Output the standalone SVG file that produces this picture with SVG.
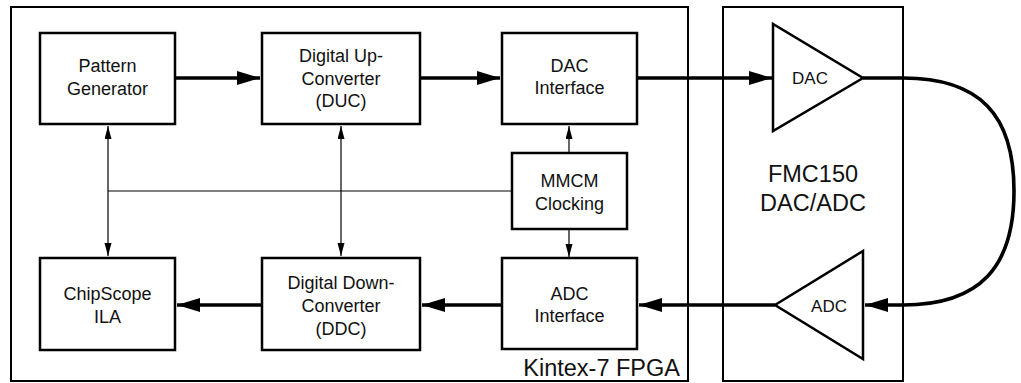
<svg xmlns="http://www.w3.org/2000/svg" width="1021" height="383" viewBox="0 0 1021 383">
<style>
text{font-family:"Liberation Sans",Arial,Helvetica,sans-serif;fill:#111;text-anchor:middle}
.t{font-size:18px}
.big{font-size:23.5px}
.tri{font-size:17px}
.box{fill:#fff;stroke:#000;stroke-width:2.5}
.frame{fill:none;stroke:#000;stroke-width:2}
.thick{fill:none;stroke:#000;stroke-width:3.6}
.thin{fill:none;stroke:#000;stroke-width:1.2}
</style>
<defs>
<marker id="ah" markerUnits="userSpaceOnUse" markerWidth="24" markerHeight="16" refX="23" refY="7" orient="auto">
<path d="M0,0 L23,7 L0,14 z" fill="#000"/>
</marker>
<marker id="as" markerUnits="userSpaceOnUse" markerWidth="14" markerHeight="8" refX="13" refY="3.5" orient="auto-start-reverse">
<path d="M0,0 L13,3.5 L0,7 z" fill="#000"/>
</marker>
</defs>
<g id="fpga">
<rect class="frame" x="11" y="7" width="677" height="374"/>
<text class="big" x="680" y="376" style="text-anchor:end">Kintex-7 FPGA</text>
</g>
<g id="fmc150">
<rect class="frame" x="723" y="7" width="180" height="374"/>
<text class="big" x="813" y="182">FMC150</text>
<text class="big" x="813" y="211">DAC/ADC</text>
</g>
<g id="connectors">
<path class="thick" d="M175,78 H260" marker-end="url(#ah)"/>
<path class="thick" d="M420,78 H500" marker-end="url(#ah)"/>
<path class="thick" d="M637,78 H772" marker-end="url(#ah)"/>
<path class="thick" d="M863,78 H903 C980,78 1014,115 1014,191 C1014,267 980,305 903,305 H865" marker-end="url(#ah)"/>
<path class="thick" d="M775,305 H639" marker-end="url(#ah)"/>
<path class="thick" d="M502,305 H422" marker-end="url(#ah)"/>
<path class="thick" d="M262,305 H177" marker-end="url(#ah)"/>
<path class="thin" d="M108,191 H512"/>
<path class="thin" d="M108,126 V256" marker-start="url(#as)" marker-end="url(#as)"/>
<path class="thin" d="M341,126 V256" marker-start="url(#as)" marker-end="url(#as)"/>
<path class="thin" d="M569,153 V126" marker-end="url(#as)"/>
<path class="thin" d="M569,229 V257" marker-end="url(#as)"/>
</g>
<g id="pattern-generator">
<rect class="box" x="40" y="33" width="135" height="91"/>
<text class="t" x="107.5" y="72">Pattern</text>
<text class="t" x="107.5" y="95">Generator</text>
</g>
<g id="duc">
<rect class="box" x="262" y="33" width="158" height="91"/>
<text class="t" x="341" y="62">Digital Up-</text>
<text class="t" x="341" y="84.5">Converter</text>
<text class="t" x="341" y="107">(DUC)</text>
</g>
<g id="dac-interface">
<rect class="box" x="502" y="33" width="135" height="91"/>
<text class="t" x="569.5" y="72">DAC</text>
<text class="t" x="569.5" y="94">Interface</text>
</g>
<g id="mmcm">
<rect class="box" x="512" y="153" width="115" height="76"/>
<text class="t" x="569.5" y="187">MMCM</text>
<text class="t" x="569.5" y="210">Clocking</text>
</g>
<g id="chipscope">
<rect class="box" x="40" y="258" width="135" height="92"/>
<text class="t" x="107.5" y="300">ChipScope</text>
<text class="t" x="107.5" y="323">ILA</text>
</g>
<g id="ddc">
<rect class="box" x="262" y="258" width="158" height="92"/>
<text class="t" x="341" y="289">Digital Down-</text>
<text class="t" x="341" y="312">Converter</text>
<text class="t" x="341" y="335">(DDC)</text>
</g>
<g id="adc-interface">
<rect class="box" x="502" y="258" width="135" height="91"/>
<text class="t" x="569.5" y="300">ADC</text>
<text class="t" x="569.5" y="322">Interface</text>
</g>
<g id="dac">
<polygon class="box" points="773,24 773,131 863,78"/>
<text class="tri" x="810" y="84">DAC</text>
</g>
<g id="adc">
<polygon class="box" points="863,251 863,359 775,305"/>
<text class="tri" x="829" y="312">ADC</text>
</g>
</svg>
